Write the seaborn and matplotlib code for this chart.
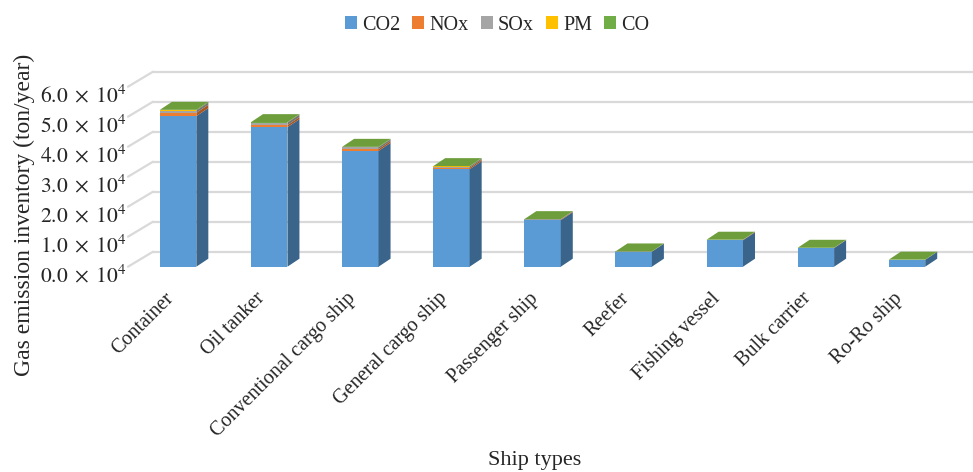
import matplotlib
matplotlib.use("Agg")
import matplotlib.pyplot as plt
from matplotlib.patches import Polygon, Patch
import matplotlib.transforms as mtransforms
import seaborn as sns
import numpy as np

# Ship categories and emission inventories (ton/year)
ships = ["Container", "Oil tanker", "Conventional cargo ship", "General cargo ship",
         "Passenger ship", "Reefer", "Fishing vessel", "Bulk carrier", "Ro-Ro ship"]
gases = ["CO2", "NOx", "SOx", "PM", "CO"]
co2 = [50200, 46500, 38600, 32500, 15500, 5000, 8800, 6200, 2300]
nox = [1100, 700, 600, 500, 200, 50, 120, 60, 25]
sox = [750, 800, 600, 400, 100, 20, 50, 30, 10]
pm = [40, 35, 30, 25, 10, 3, 5, 3, 1]
co = [200, 150, 120, 100, 40, 10, 20, 10, 5]
yticks = [0, 10000, 20000, 30000, 40000, 50000, 60000]

colors = ["#5B9BD5", "#ED7D31", "#A5A5A5", "#FFC000", "#70AD47"]
side_colors = ["#3A6489", "#A9551F", "#737373", "#B38600", "#4E7A31"]
top_color = "#6E9E3C"

sns.set_theme(style="white")
plt.rcParams["font.family"] = ["Liberation Serif", "DejaVu Serif"]
plt.rcParams["mathtext.fontset"] = "stix"

fig = plt.figure(figsize=(9.73, 4.72), dpi=100)
W, H = 973, 472
# front plane of the pseudo-3D chart
ax_l, ax_r, ax_b, ax_t = 128, 948, 472 - 266.7, 472 - 86.7
ax = fig.add_axes([ax_l / W, ax_b / H, (ax_r - ax_l) / W, (ax_t - ax_b) / H])

xmin, xmax = -0.55, 8.45
ymax = 60000
px_x = (xmax - xmin) / (ax_r - ax_l)   # data units per pixel
px_y = ymax / (ax_t - ax_b)

wall_dx, wall_dy = 25 * px_x, 15 * px_y
bar_dx, bar_dy = 12 * px_x, 8 * px_y
bw = 0.4

series = [co2, nox, sox, pm, co]
bottom = np.zeros(len(ships))
for gas, vals, col, scol in zip(gases, series, colors, side_colors):
    vals = np.array(vals, dtype=float)
    sns.barplot(x=ships, y=vals, bottom=bottom.copy(), color=col, width=bw,
                saturation=1, errorbar=None, linewidth=0, ax=ax, zorder=3)
    # side faces
    for i in range(len(ships)):
        x1 = i + bw / 2
        y0, y1 = bottom[i], bottom[i] + vals[i]
        ax.add_patch(Polygon([(x1, y0), (x1, y1), (x1 + bar_dx, y1 + bar_dy),
                              (x1 + bar_dx, y0 + bar_dy)], closed=True,
                             facecolor=scol, edgecolor="none", zorder=3, clip_on=False))
    bottom += vals

# top faces
for i, tot in enumerate(bottom):
    x0, x1 = i - bw / 2, i + bw / 2
    ax.add_patch(Polygon([(x0, tot), (x1, tot), (x1 + bar_dx, tot + bar_dy),
                          (x0 + bar_dx, tot + bar_dy)], closed=True,
                         facecolor=top_color, edgecolor="none", zorder=3, clip_on=False))

# back wall gridlines and floor/side diagonals
for v in yticks:
    ax.plot([xmin + wall_dx, xmax + wall_dx], [v + wall_dy, v + wall_dy],
            color="#D9D9D9", lw=1.6, zorder=1, clip_on=False)
    ax.plot([xmin, xmin + wall_dx], [v, v + wall_dy],
            color="#D9D9D9", lw=1.6, zorder=1, clip_on=False)

ax.set_xlim(xmin, xmax)
ax.set_ylim(0, ymax)
for s in ax.spines.values():
    s.set_visible(False)
ax.set_facecolor("none")
ax.set_yticks(yticks)
ax.set_yticklabels([r"$%.1f\;\times\;10^4$" % (v / 10000) for v in yticks], fontsize=15.5)
ax.tick_params(axis="y", length=0, pad=1)
for lab in ax.get_yticklabels():
    lab.set_transform(lab.get_transform() + mtransforms.ScaledTranslation(0, -5 / 72, fig.dpi_scale_trans))
ax.set_xticks(range(len(ships)))
ax.set_xticklabels(ships, rotation=45, ha="right", va="top", rotation_mode="anchor", fontsize=14.5)
ax.tick_params(axis="x", length=0, pad=10)
for lab in ax.get_xticklabels():
    lab.set_transform(lab.get_transform() + mtransforms.ScaledTranslation(-10 / 72, -6 / 72, fig.dpi_scale_trans))
ax.set_xlabel("")
ax.set_ylabel("")

fig.text(24 / W, 1 - 215 / H, "Gas emission inventory (ton/year)", rotation=90,
         ha="center", va="center", fontsize=17)
fig.text(535 / W, 11 / H, "Ship types", ha="center", va="center", fontsize=16)

handles = [Patch(facecolor=c, edgecolor="none") for c in colors]
fig.legend(handles, gases, loc="center", bbox_to_anchor=(497 / W, 1 - 25 / H), ncol=5,
           frameon=False, fontsize=14.5, handlelength=0.6, handleheight=0.6,
           handletextpad=0.25, columnspacing=0.6)

fig.savefig("out.png", dpi=100)
